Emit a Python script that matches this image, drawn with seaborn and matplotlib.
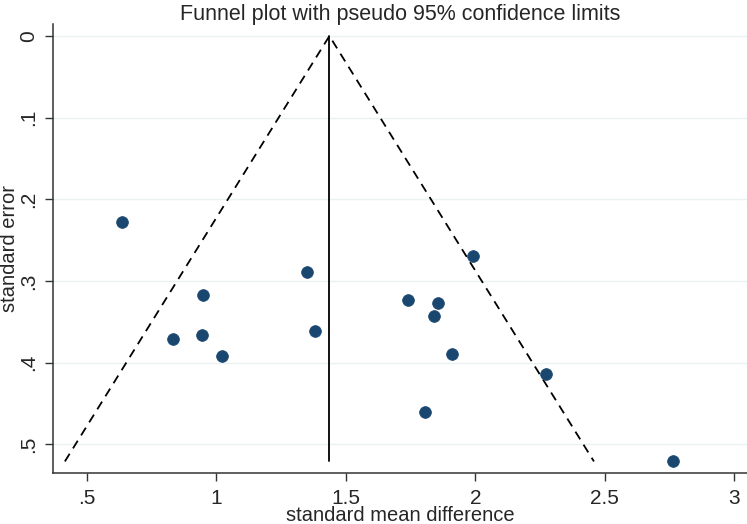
import numpy as np
import matplotlib
matplotlib.use("Agg")
import matplotlib.pyplot as plt
import seaborn as sns
import pandas as pd

# study estimates
smd = [0.635, 1.352, 0.948, 1.381, 0.834, 0.946, 1.024,
       1.993, 1.739, 1.856, 1.842, 1.912, 2.272, 1.805, 2.765]
se = [0.228, 0.289, 0.317, 0.361, 0.371, 0.366, 0.392,
      0.269, 0.323, 0.327, 0.343, 0.389, 0.414, 0.461, 0.521]
pooled_smd = 1.437
x_ticks = [0.5, 1, 1.5, 2, 2.5, 3]
x_ticklabels = [".5", "1", "1.5", "2", "2.5", "3"]
y_ticks = [0, 0.1, 0.2, 0.3, 0.4, 0.5]
y_ticklabels = ["0", ".1", ".2", ".3", ".4", ".5"]

dat = pd.DataFrame({"smd": smd, "se": se})

sns.set_theme(style="white")
plt.rcParams["font.family"] = ["Liberation Sans", "DejaVu Sans"]

fig = plt.figure(figsize=(7.47, 5.24), dpi=100)
ax = fig.add_axes([0.0705, 0.0979, 0.9295, 0.8563])

# pseudo 95% confidence limits
se_max = dat.se.max()
ax.plot([pooled_smd - 1.96 * se_max, pooled_smd, pooled_smd + 1.96 * se_max],
        [se_max, 0, se_max], color="black", lw=1.3, ls=(0, (5, 3.5)), zorder=2)
ax.plot([pooled_smd, pooled_smd], [0, se_max], color="black", lw=1.3, zorder=2)

sns.scatterplot(data=dat, x="smd", y="se", ax=ax, s=72, color="#1a476f",
                edgecolor="#1a476f", linewidth=0.5, zorder=3)

ax.set_xlim(0.3687, 3.049)
ax.set_ylim(0.5348, -0.0147)
ax.set_xticks(x_ticks)
ax.set_xticklabels(x_ticklabels)
ax.set_yticks(y_ticks)
ax.set_yticklabels(y_ticklabels, rotation=90, va="center")
ax.grid(axis="y", color="#eaf2f3", lw=1.0)
ax.set_axisbelow(True)

ax.tick_params(axis="both", labelsize=15, length=5.5, width=1.0,
               color="#333333", pad=5, left=True, bottom=True)
ax.tick_params(axis="x", pad=6.5)
for side in ["top", "right"]:
    ax.spines[side].set_visible(False)
for side in ["left", "bottom"]:
    ax.spines[side].set_color("#333333")
    ax.spines[side].set_linewidth(1.1)

ax.set_xlabel("standard mean difference", fontsize=14.5)
ax.set_ylabel("standard error", fontsize=14.5)
ax.xaxis.set_label_coords(0.5, -0.074)
ax.yaxis.set_label_coords(-0.048, 0.5)
ax.set_title("Funnel plot with pseudo 95% confidence limits", fontsize=15.5, pad=3)

fig.savefig("out.png", dpi=100)
